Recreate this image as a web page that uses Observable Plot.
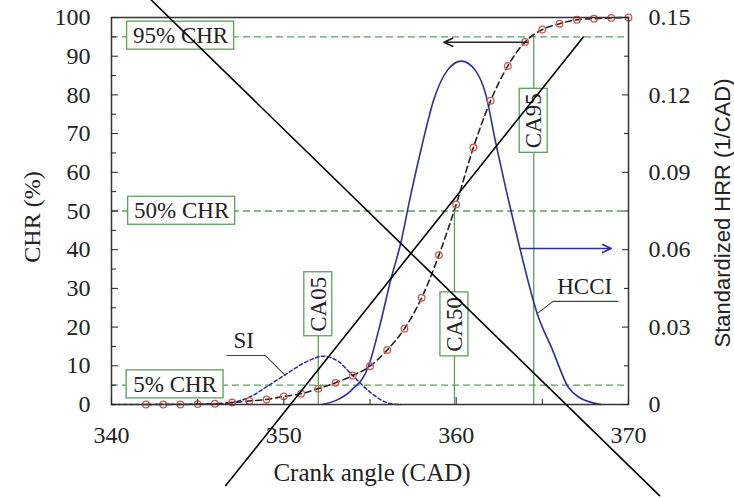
<!DOCTYPE html>
<html><head><meta charset="utf-8">
<script src="https://cdn.jsdelivr.net/npm/d3@7"></script>
<script src="https://cdn.jsdelivr.net/npm/@observablehq/plot@0.6"></script>
<style>body{margin:0;background:#fff;} svg{display:block}</style>
</head><body><div id="chart"></div>
<script>
// Cumulative heat release (CHR, %) — measured points
const chrAngle = [342,343,344,345,346,347,348,349,350,351,352,353,354,355,356,357,358,359,360,361,362,363,364,365,366,367,368,369,370];
const chrValue = [0,0,0,0.1,0.2,0.5,0.9,1.3,2.1,2.8,4.1,5.6,7.5,9.9,14.1,19.6,27.6,38.6,51.7,66.4,78.5,87.5,93.7,96.9,98.4,99.4,99.7,99.9,100];

// Standardized heat release rate (1/CAD)
const hcciAngle = [352.2,353.0,353.9,354.9,355.6,356.2,356.8,357.3,358.0,358.7,359.5,360.3,361.1,361.7,362.3,362.9,363.4,363.7,364.7,365.6,366.5,367.1,368.4];
const hcciHRR   = [0,0.0015,0.0054,0.0146,0.0314,0.0482,0.0630,0.0792,0.0999,0.1181,0.1296,0.1331,0.1296,0.1206,0.1013,0.0831,0.0689,0.0605,0.0353,0.0210,0.0068,0.0029,0];
const siAngle = [340,346,347.1,348.2,349.05,350.1,351.2,352.3,353.2,353.9,355.06,356.2,356.8];
const siHRR   = [0,0.0002,0.0009,0.0035,0.0071,0.0116,0.0162,0.0187,0.0165,0.0119,0.0045,0.0003,0];

// Reference levels and crank-angle markers
const chrLevels = [5, 50, 95];
const chrLevelLabels = ["5% CHR", "50% CHR", "95% CHR"];
const caNames = ["CA05", "CA50", "CA95"];
const caAngle = [352.0, 359.9, 364.5];
const caLevel = [5, 50, 95];

// Ticks
const xTicks = [340, 350, 360, 370];
const xMinor = [345, 355, 365];
const yTicks = [0,10,20,30,40,50,60,70,80,90,100];
const yMinor = [5,15,25,35,45,55,65,75,85,95];
const hrrTicks = [0, 0.03, 0.06, 0.09, 0.12, 0.15];
const hrrMinor = [0.015, 0.045, 0.075, 0.105, 0.135];
const HRR_MAX = 0.15;

// Annotation anchors (data units: CAD, %)
const levelBoxAngle = [343.69, 344.07, 344.01];
const levelBoxY = [5.2, 50.06, 95.3];
const caBoxY = [25.9, 20.7, 73.3];
const curveLabels = ["SI", "HCCI"];
const curveLabelAngle = [347.67, 367.46];
const curveLabelY = [16.4, 30.35];
const siLeaderAngle = [346.69, 348.92, 350.08];
const siLeaderY = [12.68, 12.68, 7.5];
const hcciLeaderAngle = [369.40, 365.62, 364.69];
const hcciLeaderY = [26.65, 26.65, 23.47];
const chrArrow = {x1: 364.13, x2: 359.29, y: 93.6};
const hrrArrow = {x1: 363.72, x2: 369.0, y: 40.3};
// Cross-out strokes over the figure
const crossA = {x: [342.30, 371.80], y: [104.53, -23.54]};
const crossB = {x: [346.63, 367.38], y: [-20.96, 94.95]};

const toY = v => v / HRR_MAX * 100;
const chr = chrAngle.map((a, i) => ({a, v: chrValue[i]}));
const hcci = hcciAngle.map((a, i) => ({a, v: toY(hcciHRR[i])}));
const si = siAngle.map((a, i) => ({a, v: toY(siHRR[i])}));
const levels = chrLevels.map((l, i) => ({l, label: chrLevelLabels[i], bx: levelBoxAngle[i], by: levelBoxY[i]}));
const cas = caNames.map((n, i) => ({n, a: caAngle[i], l: caLevel[i], by: caBoxY[i], top: Math.max(caLevel[i], caBoxY[i])}));
const curveLbl = curveLabels.map((t, i) => ({t, a: curveLabelAngle[i], v: curveLabelY[i]}));
const siLead = siLeaderAngle.map((a, i) => ({a, v: siLeaderY[i]}));
const hcciLead = hcciLeaderAngle.map((a, i) => ({a, v: hcciLeaderY[i]}));
const cA = crossA.x.map((a, i) => ({a, v: crossA.y[i]}));
const cB = crossB.x.map((a, i) => ({a, v: crossB.y[i]}));

const green = "#5e9e5e";
const blue = "#2b2f9a";
const red = "#d2574f";
const serif = "Liberation Serif";

function boxes(data, w, h) {
  return Plot.rect(data, {x1: "bx", x2: "bx", y1: "by", y2: "by",
    insetLeft: -w/2, insetRight: -w/2, insetTop: -h/2, insetBottom: -h/2,
    fill: "white", stroke: green, strokeWidth: 1.3});
}

const plot = Plot.plot({
  width: 734, height: 498,
  marginLeft: 111, marginRight: 106, marginTop: 17, marginBottom: 94,
  style: {fontFamily: serif, fontSize: "23px", color: "#222", background: "white"},
  x: {domain: [340, 370]},
  y: {domain: [0, 100]},
  marks: [
    Plot.ruleY(levels, {y: "l", stroke: green, strokeWidth: 1.3, strokeDasharray: "7,4"}),
    Plot.ruleX(cas, {x: "a", y1: 0, y2: "top", stroke: green, strokeWidth: 1.3}),
    Plot.line(si, {x: "a", y: "v", stroke: blue, strokeWidth: 1.5, strokeDasharray: "3.5,2.5", curve: "monotone-x"}),
    Plot.line(hcci, {x: "a", y: "v", stroke: blue, strokeWidth: 1.6, curve: "monotone-x"}),
    Plot.line(chr, {x: "a", y: "v", stroke: "#222", strokeWidth: 1.6, strokeDasharray: "6,4", curve: "monotone-x"}),
    Plot.dot(chr, {x: "a", y: "v", r: 3.3, stroke: red, strokeWidth: 1.3, fill: "none"}),
    boxes(levels.filter(d => d.l !== 5), 107, 28),
    boxes(levels.filter(d => d.l === 5), 97, 28),
    Plot.rect(cas, {x1: "a", x2: "a", y1: "by", y2: "by", insetLeft: -14, insetRight: -14, insetTop: -32, insetBottom: -32, fill: "white", stroke: green, strokeWidth: 1.3}),
    Plot.text(levels, {x: "bx", y: "by", text: "label", fontSize: 23, fill: "#222"}),
    Plot.text(cas, {x: "a", y: "by", text: "n", rotate: -90, fontSize: 23, fill: "#222"}),
    Plot.line(siLead, {x: "a", y: "v", stroke: "#444", strokeWidth: 1.1}),
    Plot.line(hcciLead, {x: "a", y: "v", stroke: "#444", strokeWidth: 1.1}),
    Plot.text(curveLbl, {x: "a", y: "v", text: "t", fontSize: 23, fill: "#222"}),
    Plot.arrow([chrArrow], {x1: "x1", x2: "x2", y1: "y", y2: "y", stroke: "#222", strokeWidth: 1.6, headLength: 9, headAngle: 50}),
    Plot.arrow([hrrArrow], {x1: "x1", x2: "x2", y1: "y", y2: "y", stroke: blue, strokeWidth: 1.6, headLength: 9, headAngle: 50}),
    Plot.frame({stroke: "#333", strokeWidth: 1.5}),
    Plot.axisX(xTicks, {tickSize: -7, tickPadding: 28, fontSize: 24, label: null}),
    Plot.axisX(xMinor, {tickSize: -5, tickFormat: () => "", label: null}),
    Plot.axisY(yTicks, {anchor: "left", tickSize: -7, tickPadding: 28, fontSize: 24, label: null}),
    Plot.axisY(yMinor, {anchor: "left", tickSize: -5, tickFormat: () => "", label: null}),
    Plot.axisY(hrrTicks.map(toY), {anchor: "right", tickSize: -7, tickPadding: 27, fontSize: 24, label: null,
      tickFormat: d => String(+(d * HRR_MAX / 100).toFixed(3))}),
    Plot.axisY(hrrMinor.map(toY), {anchor: "right", tickSize: -5, tickFormat: () => "", label: null}),
    Plot.text(["CHR (%)"], {frameAnchor: "left", textAnchor: "middle", lineAnchor: "middle", dx: -79, dy: 6, rotate: -90, fontSize: 24, fill: "#222"}),
    Plot.text(["Standardized HRR (1/CAD)"], {frameAnchor: "right", textAnchor: "middle", lineAnchor: "middle", dx: 94, dy: 2, rotate: -90, fontSize: 22, fontFamily: "Liberation Sans", fill: "#222"}),
    Plot.text(["Crank angle (CAD)"], {frameAnchor: "bottom", textAnchor: "middle", lineAnchor: "middle", dx: 2, dy: 68, fontSize: 25, fill: "#222"}),
    Plot.line(cA, {x: "a", y: "v", stroke: "#000", strokeWidth: 1.6}),
    Plot.line(cB, {x: "a", y: "v", stroke: "#000", strokeWidth: 1.6})
  ]
});
document.getElementById("chart").appendChild(plot);
</script>
</body></html>
